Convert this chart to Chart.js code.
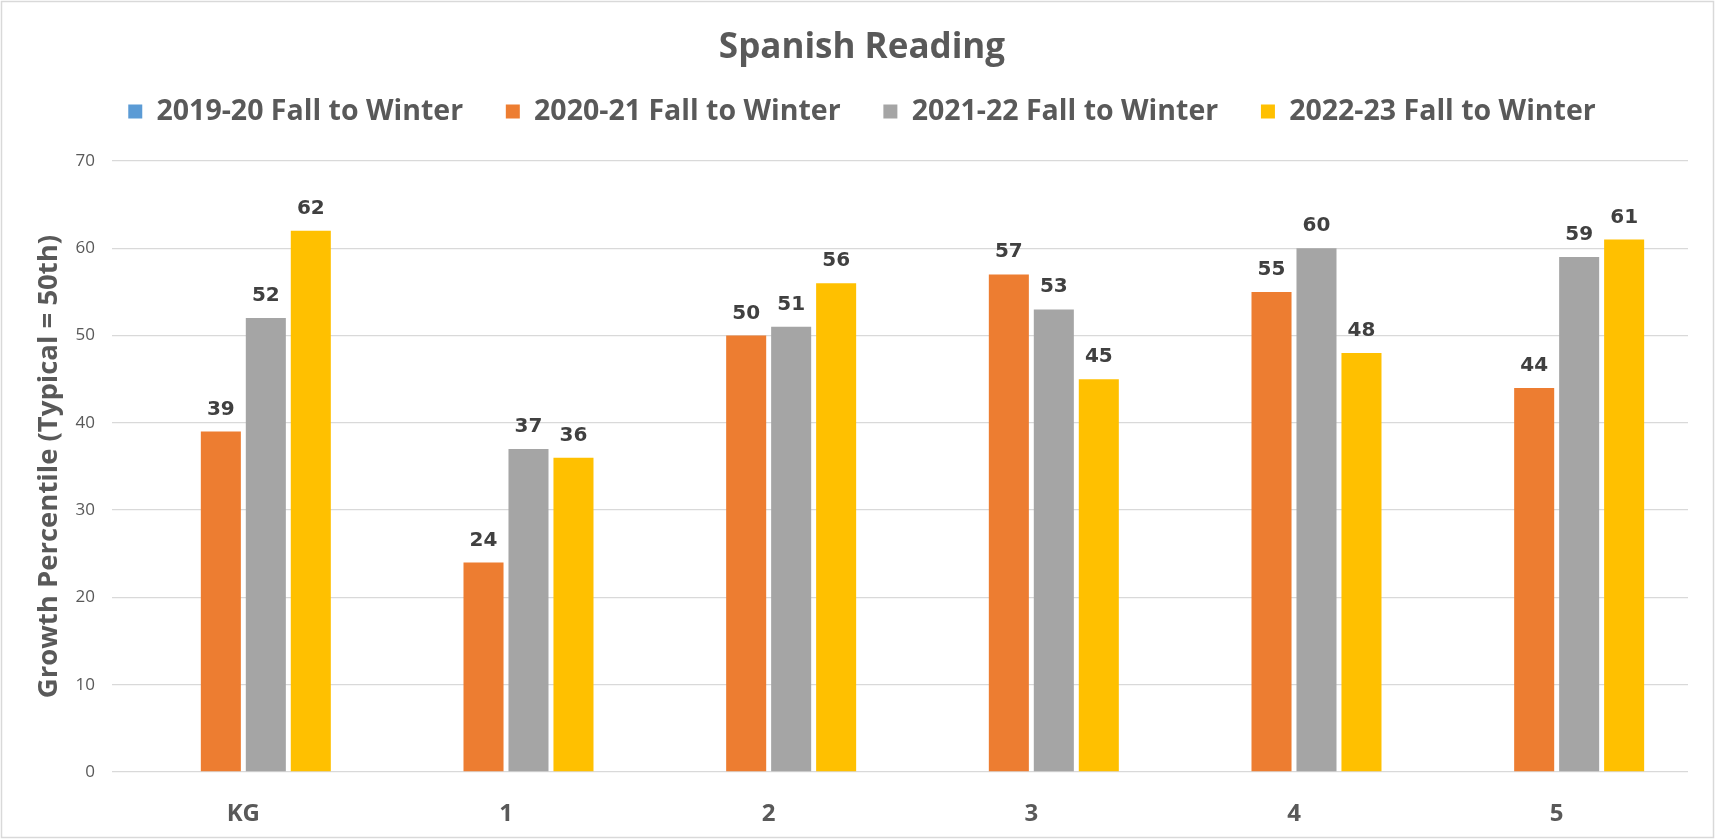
<!DOCTYPE html>
<html>
<head>
<meta charset="utf-8">
<script src="https://cdn.jsdelivr.net/npm/chart.js@4"></script>
<style>
  html, body { margin: 0; padding: 0; background: #ffffff; }
  #wrap { width: 1715px; height: 839px; }
</style>
</head>
<body>
<div id="wrap"><canvas id="c" width="1715" height="839"></canvas></div>
<script>
const chartTitle = 'Spanish Reading';
const yAxisTitle = 'Growth Percentile (Typical = 50th)';
const categories = ['KG', '1', '2', '3', '4', '5'];
const seriesNames = ['2019-20 Fall to Winter', '2020-21 Fall to Winter', '2021-22 Fall to Winter', '2022-23 Fall to Winter'];
const values2019 = [null, null, null, null, null, null];
const values2020 = [39, 24, 50, 57, 55, 44];
const values2021 = [52, 37, 51, 53, 60, 59];
const values2022 = [62, 36, 56, 45, 48, 61];
const yTickValues = [0, 10, 20, 30, 40, 50, 60, 70];
const seriesColors = ['#5B9BD5', '#ED7D31', '#A5A5A5', '#FFC000'];

const allSeries = [values2019, values2020, values2021, values2022];

const frameAndBackground = {
  id: 'frameAndBackground',
  beforeDraw(chart) {
    const ctx = chart.ctx;
    ctx.save();
    ctx.fillStyle = '#ffffff';
    ctx.fillRect(0, 0, chart.width, chart.height);
    ctx.restore();
  },
  afterDraw(chart) {
    const ctx = chart.ctx;
    ctx.save();
    ctx.strokeStyle = '#d9d9d9';
    ctx.lineWidth = 1.5;
    ctx.strokeRect(1.5, 1.5, chart.width - 3, chart.height - 3);
    ctx.restore();
  }
};

const valueLabels = {
  id: 'valueLabels',
  afterDatasetsDraw(chart) {
    const ctx = chart.ctx;
    ctx.save();
    ctx.font = 'bold 20px "DejaVu Sans"';
    ctx.fillStyle = '#404040';
    ctx.textAlign = 'center';
    ctx.textBaseline = 'alphabetic';
    chart.data.datasets.forEach((ds, i) => {
      const meta = chart.getDatasetMeta(i);
      meta.data.forEach((el, j) => {
        const v = ds.data[j];
        if (v === null || v === undefined) return;
        ctx.fillText(String(v), el.x, el.y - 17);
      });
    });
    ctx.restore();
  }
};

new Chart(document.getElementById('c'), {
  type: 'bar',
  data: {
    labels: categories,
    datasets: allSeries.map((vals, i) => ({
      label: seriesNames[i],
      data: vals,
      backgroundColor: seriesColors[i],
      borderWidth: 0,
      categoryPercentage: 0.685,
      barPercentage: 0.89,
      yAxisID: 'y'
    }))
  },
  options: {
    responsive: false,
    animation: false,
    devicePixelRatio: 1,
    layout: { padding: { top: 0, left: 9, right: 0, bottom: 0 } },
    plugins: {
      title: {
        display: true,
        text: chartTitle,
        color: '#595959',
        font: { family: 'Open Sans', size: 35, weight: 'bold', lineHeight: 0.2 },
        padding: { top: 45, bottom: 2.5 }
      },
      subtitle: {
        display: true,
        text: '',
        weight: 500,
        font: { size: 1, lineHeight: 1 },
        padding: { top: 0, bottom: 24.25 }
      },
      legend: {
        display: true,
        position: 'top',
        weight: 1000,
        labels: {
          color: '#595959',
          font: { family: 'Open Sans', size: 28.5, weight: 'bold' },
          boxWidth: 14,
          boxHeight: 14,
          padding: 42.75
        }
      },
      tooltip: { enabled: false }
    },
    scales: {
      x: {
        grid: { display: false, drawTicks: false },
        border: { display: false },
        ticks: {
          color: '#595959',
          font: { family: 'Open Sans', size: 24, weight: 'bold' },
          padding: 28
        },
        afterFit(scale) { scale.height = 67; }
      },
      y: {
        min: 0,
        max: 70,
        afterBuildTicks(scale) { scale.ticks = yTickValues.map(v => ({ value: v })); },
        grid: { color: '#d9d9d9', lineWidth: 1.3, drawTicks: false },
        border: { display: false },
        ticks: {
          color: '#595959',
          font: { family: 'Open Sans', size: 17 },
          padding: 17
        },
        title: {
          display: true,
          text: yAxisTitle,
          color: '#595959',
          font: { family: 'Open Sans', size: 27.5, weight: 'bold', lineHeight: 1.2 },
          padding: { top: 23.5, bottom: 0 }
        },
        afterFit(scale) { scale.width = 103; }
      },
      yRight: {
        position: 'right',
        display: true,
        grid: { display: false, drawTicks: false },
        border: { display: false },
        ticks: { display: false },
        afterFit(scale) { scale.width = 27; }
      }
    }
  },
  plugins: [frameAndBackground, valueLabels]
});
</script>
</body>
</html>
